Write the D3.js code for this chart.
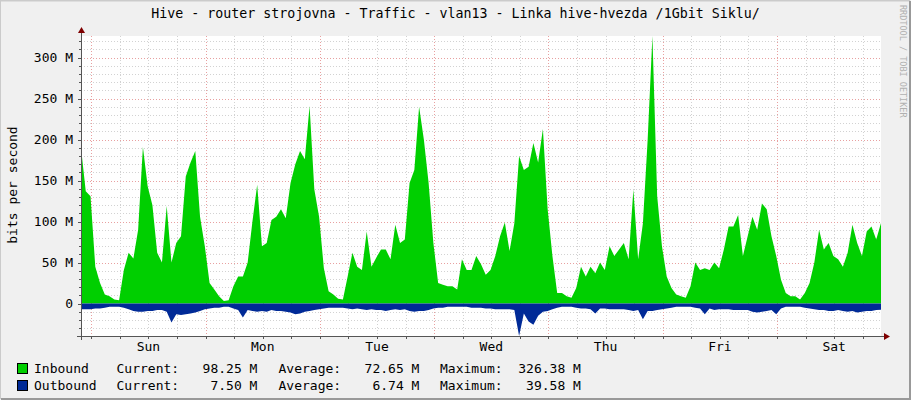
<!DOCTYPE html>
<html><head><meta charset="utf-8">
<script src="https://cdn.jsdelivr.net/npm/d3@7"></script>
<style>
body{margin:0;background:#f0f0f0;}
svg{display:block;}
text{font-family:"DejaVu Sans Mono",monospace;}
</style>
</head><body><svg id="c" width="911" height="400"></svg>
<script>
// ---------- data ----------
const title = "Hive - router strojovna - Traffic - vlan13 - Linka hive-hvezda /1Gbit Siklu/";
const yAxisTitle = "bits per second";
const watermark = "RRDTOOL / TOBI OETIKER";
const startTime = Date.UTC(2024, 2, 2, 21, 50); // Sat 21:50, hourly samples
const inbound = [ // M bits/s, hourly
  190,137,131,45,25,11,9,5,4,41,62,55,90,191,143,120,62,50,119,50,74,82,155,172,186,106,70,25,17,9,3,4,21,33,33,50,100,145,70,74,102,106,
  115,104,147,170,186,176,241,139,106,43,15,11,6,5,33,62,45,41,88,45,56,66,66,54,96,74,78,147,163,240,200,147,74,25,23,21,21,17,54,41,41,58,
  48,35,41,58,82,99,64,98,180,163,167,196,172,213,115,58,13,13,9,7,19,45,33,45,37,50,41,70,58,66,74,54,139,54,98,200,326.38,131,70,33,19,11,
  9,7,21,50,41,43,41,50,43,66,94,94,108,58,82,106,90,122,115,82,58,29,13,9,9,5,13,25,50,90,66,74,58,54,45,62,96,74,58,88,94,78,98.25
];
const outbound = [ // M bits/s, hourly (drawn below zero)
  7,7,7,6,6,5,4,4,4,5,7,9,10,10,9,9,8,8,10,23,13,14,13,12,11,9,7,6,5,5,4,4,6,8,17,8,9,10,9,10,8,9,
  9,10,11,13,12,10,9,8,7,6,5,5,5,5,6,7,6,7,8,7,8,8,9,8,7,8,7,9,10,9,9,8,6,5,5,4,4,4,4,4,5,5,
  5,6,6,7,7,7,7,8,39.58,12,22,26,15,10,9,7,5,4,4,4,5,6,6,7,12,6,6,7,7,7,7,8,9,8,19,9,9,8,7,6,5,4,
  4,4,4,5,6,13,6,8,7,7,7,8,8,8,8,10,11,10,9,8,13,6,4,4,4,4,5,6,7,8,8,9,9,8,9,10,9,11,10,9,9,8,7.5
];
const yMin = -39.58, yMax = 326.38;
const yMajor = [0, 50, 100, 150, 200, 250, 300];
const yMinorStep = 10;
const seriesNames = ["Inbound", "Outbound"];
const seriesColors = ["#00CF00", "#002A97"];
const statLabels = ["Current:", "Average:", "Maximum:"];
const statCurrent = [98.25, 7.50];
const statAverage = [72.65, 6.74];
const statMaximum = [326.38, 39.58];

// ---------- layout ----------
const W = 911, H = 400;
const L = 81, R = 881, T = 36, B = 336;
const svg = d3.select("#c");

svg.append("rect").attr("width", W).attr("height", H).attr("fill", "#f0f0f0");
svg.append("path").attr("d", `M0,${H-1}V0.5H${W-1}`).attr("fill","none").attr("stroke","#cbcbcb").attr("stroke-width",2);
svg.append("path").attr("d", `M1,${H-1}H${W-1}V1`).attr("fill","none").attr("stroke","#999999").attr("stroke-width",2);

const endTime = startTime + (inbound.length - 1) * 3600e3;
const x = d3.scaleUtc().domain([new Date(startTime), new Date(endTime)]).range([L, R]);
const y = d3.scaleLinear().domain([yMin, yMax]).range([B, T]);

svg.append("rect").attr("x", L).attr("y", T).attr("width", R - L).attr("height", B - T).attr("fill", "#ffffff");

const grid = svg.append("g").attr("shape-rendering", "crispEdges");
const minorVals = d3.range(Math.ceil(yMin / yMinorStep) * yMinorStep, yMax, yMinorStep).filter(v => v % 50 !== 0);
grid.selectAll(".hm").data(minorVals).join("line")
  .attr("x1", L).attr("x2", R).attr("y1", d => Math.round(y(d)) + 0.5).attr("y2", d => Math.round(y(d)) + 0.5)
  .attr("stroke", "#d2d2d2").attr("stroke-dasharray", "1,2");
const sixH = d3.utcHour.every(6).range(x.domain()[0], x.domain()[1]).filter(d => d.getUTCHours() !== 0);
grid.selectAll(".vm").data(sixH).join("line")
  .attr("x1", d => Math.round(x(d)) + 0.5).attr("x2", d => Math.round(x(d)) + 0.5).attr("y1", T).attr("y2", B)
  .attr("stroke", "#d2d2d2").attr("stroke-dasharray", "1,2");
grid.selectAll(".hM").data(yMajor).join("line")
  .attr("x1", L).attr("x2", R).attr("y1", d => Math.round(y(d)) + 0.5).attr("y2", d => Math.round(y(d)) + 0.5)
  .attr("stroke", "#e8a0a0").attr("stroke-dasharray", "1,2");
const days = d3.utcDay.range(x.domain()[0], x.domain()[1]);
grid.selectAll(".vM").data(days).join("line")
  .attr("x1", d => Math.round(x(d)) + 0.5).attr("x2", d => Math.round(x(d)) + 0.5).attr("y1", T).attr("y2", B)
  .attr("stroke", "#e8a0a0").attr("stroke-dasharray", "1,2");

// areas
const t = i => new Date(startTime + i * 3600e3);
const areaIn = d3.area().x((d, i) => x(t(i))).y0(y(0)).y1(d => y(d));
const areaOut = d3.area().x((d, i) => x(t(i))).y0(y(0)).y1(d => y(-d));
svg.append("path").datum(inbound).attr("d", areaIn).attr("fill", seriesColors[0]);
svg.append("path").datum(outbound).attr("d", areaOut).attr("fill", seriesColors[1]);

// axes
const ax = svg.append("g").attr("shape-rendering", "crispEdges");
ax.append("line").attr("x1", L + 0.5).attr("x2", L + 0.5).attr("y1", B + 4).attr("y2", T - 4).attr("stroke", "#555");
ax.append("line").attr("x1", L - 4).attr("x2", R + 4).attr("y1", B + 0.5).attr("y2", B + 0.5).attr("stroke", "#555");
svg.append("path").attr("d", `M${L - 3},${T - 3}L${L + 4},${T - 3}L${L + 0.5},${T - 9}Z`).attr("fill", "#7f0000");
svg.append("path").attr("d", `M${R + 3},${B - 3}L${R + 3},${B + 4}L${R + 9},${B + 0.5}Z`).attr("fill", "#7f0000");
ax.selectAll(".yt").data(minorVals).join("line")
  .attr("x1", L - 2).attr("x2", L).attr("y1", d => Math.round(y(d)) + 0.5).attr("y2", d => Math.round(y(d)) + 0.5).attr("stroke", "#555");
ax.selectAll(".yT").data(yMajor).join("line")
  .attr("x1", L - 3).attr("x2", L).attr("y1", d => Math.round(y(d)) + 0.5).attr("y2", d => Math.round(y(d)) + 0.5).attr("stroke", "#555");
ax.selectAll(".xt").data(sixH.concat(days)).join("line")
  .attr("x1", d => Math.round(x(d)) + 0.5).attr("x2", d => Math.round(x(d)) + 0.5).attr("y1", B).attr("y2", B + 3).attr("stroke", "#555");

svg.selectAll(".yl").data(yMajor).join("text")
  .attr("x", 73).attr("y", d => y(d) + 4.5).attr("text-anchor", "end").attr("font-size", 13).attr("fill", "#000")
  .text(d => d === 0 ? "0" : d + " M");
const fmt = d3.utcFormat("%a");
svg.selectAll(".xl").data(days).join("text")
  .attr("x", d => x(new Date(+d + 12 * 3600e3))).attr("y", 351).attr("text-anchor", "middle").attr("font-size", 13).attr("fill", "#000")
  .text(d => fmt(d));

svg.append("text").attr("x", W / 2).attr("y", 18).attr("text-anchor", "middle").attr("font-size", 13.3).text(title);
svg.append("text").attr("transform", "translate(17,185) rotate(-90)").attr("text-anchor", "middle").attr("font-size", 13).text(yAxisTitle);
svg.append("text").attr("transform", "translate(900,5) rotate(90)").attr("font-size", 8.5).attr("fill", "#b0b0b0").text(watermark);

// legend: separate segments like rrdtool GPRINTs
const segX = [116.5, 278.5, 440];
const segW = [8, 8, 8];
seriesNames.forEach((n, i) => {
  const yy = 363 + i * 17;
  svg.append("rect").attr("x", 17.5).attr("y", yy + 0.5).attr("width", 10).attr("height", 10)
    .attr("fill", seriesColors[i]).attr("stroke", "#000");
  svg.append("text").attr("x", 34).attr("y", yy + 10).attr("font-size", 13).text(n);
  const vals = [statCurrent[i], statAverage[i], statMaximum[i]];
  vals.forEach((v, k) => {
    svg.append("text").attr("x", segX[k]).attr("y", yy + 10).attr("font-size", 13)
      .attr("xml:space", "preserve").style("white-space", "pre")
      .text(statLabels[k] + v.toFixed(2).padStart(segW[k]) + " M");
  });
});
</script>
</body></html>
